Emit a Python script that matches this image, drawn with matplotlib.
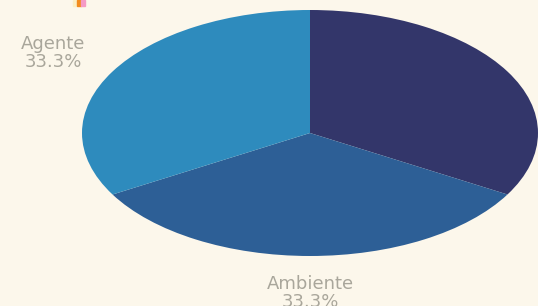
# Pie chart drawn as a flattened ellipse
import numpy as np
import matplotlib.pyplot as plt
from matplotlib.patches import Rectangle

labels = ["", "Ambiente", "Agente"]   # first label sits off the right edge
values = [1, 1, 1]
colors = ["#33366a", "#2d5f96", "#2e8bbd"]
bg = "#fcf7eb"

fig = plt.figure(figsize=(5.38, 3.06), dpi=100, facecolor=bg)
ax = fig.add_axes([0, 0, 1, 1])
ax.set_facecolor(bg)

pcts = [v / sum(values) * 100 for v in values]
txt = [f"{l}\n{p:.1f}%" if l else "" for l, p in zip(labels, pcts)]

ax.pie(values, colors=colors, labels=txt, startangle=90, counterclock=False,
       labeldistance=1.3, wedgeprops=dict(linewidth=0),
       textprops=dict(color="#a9a69b", fontsize=13, ha="center", va="center",
                      linespacing=1.0))

# stretch the circle into the ellipse of the reference
ax.set_aspect("auto")
ax.set_xlim(-310 / 228, 228 / 228)
ax.set_ylim(-173 / 123, 133 / 123)
ax.axis("off")

# clipped legend swatches at the very top
for x0, c in [(73, "#fbefc6"), (77, "#f28c1e"), (81, "#f59ac4")]:
    fig.patches.append(Rectangle((x0 / 538, 1 - 6 / 306), 4 / 538, 6 / 306,
                                 transform=fig.transFigure, color=c))

fig.savefig("out.png", dpi=100, facecolor=bg)
